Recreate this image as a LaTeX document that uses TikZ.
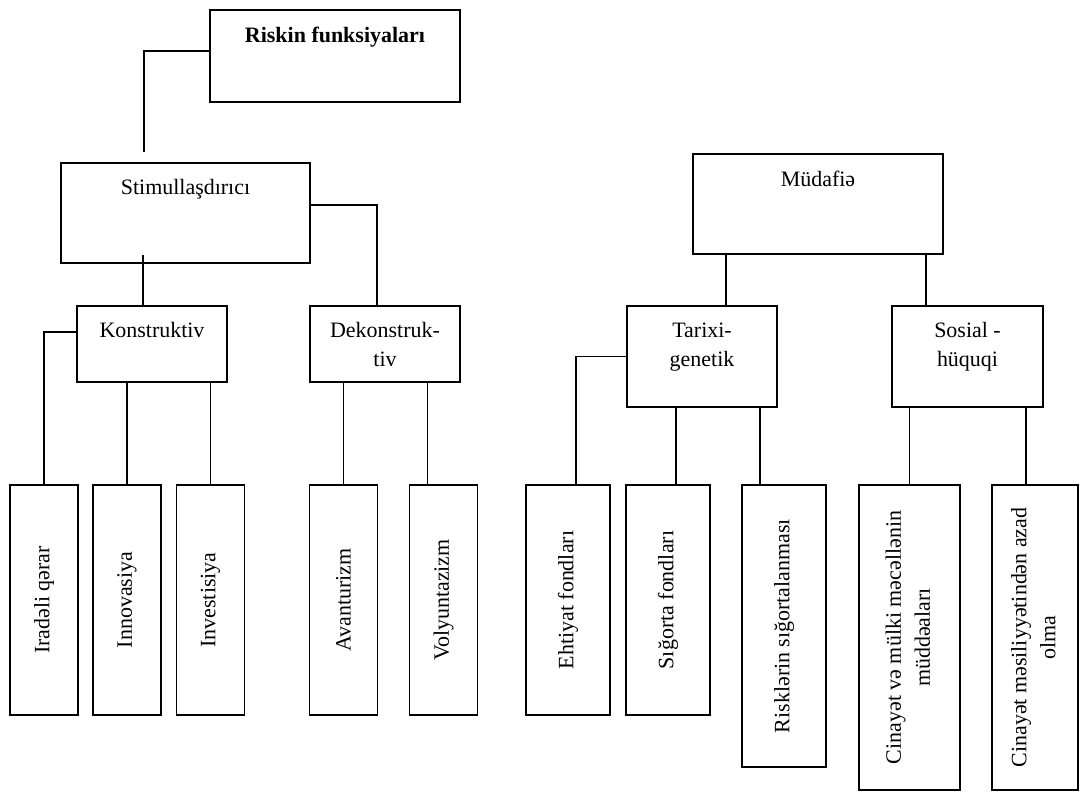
\documentclass[tikz,border=0pt]{standalone}
\usepackage{fontspec}
\setmainfont{Liberation Serif}

\tikzset{
	box/.style={draw, line width=0.9pt, inner sep=0pt},
	toptext/.style={anchor=north, align=center, inner sep=0pt, yshift=-0.34cm},
	leaf/.style={draw, line width=0.9pt, inner sep=0pt, minimum height=4.6cm},
	link/.style={line width=0.9pt}
}

\begin{document}
\begin{tikzpicture}[font=\fontsize{12.5}{16.5}\selectfont]
		\useasboundingbox (0,0) rectangle (21.8,-15.84);

		\node[box, minimum width=5cm, minimum height=1.84cm, label={[toptext]north:\textbf{Riskin funksiyaları}}] (R) at (6.7,-1.12) {};
		\node[box, minimum width=4.98cm, minimum height=2cm, label={[toptext]north:Stimullaşdırıcı}] (S) at (3.71,-4.26) {};
		\node[box, minimum width=5cm, minimum height=2cm, label={[toptext]north:Müdafiə}] (M) at (16.36,-4.08) {};

		\node[box, minimum width=3cm, minimum height=1.52cm, label={[toptext]north:Konstruktiv}] (K) at (3.04,-6.88) {};
		\node[box, minimum width=3cm, minimum height=1.52cm, label={[toptext]north:Dekonstruk-\\tiv}] (D) at (7.7,-6.88) {};
		\node[box, minimum width=3cm, minimum height=2.02cm, label={[toptext]north:Tarixi-\\genetik}] (T) at (14.04,-7.13) {};
		\node[box, minimum width=3.02cm, minimum height=2.02cm, label={[toptext]north:Sosial -\\hüquqi}] (SH) at (19.35,-7.13) {};

		\node[leaf, minimum width=1.36cm] (L1) at (0.88,-12) {\rotatebox{90}{Iradəli qərar}};
		\node[leaf, minimum width=1.36cm] (L2) at (2.54,-12) {\rotatebox{90}{Innovasiya}};
		\node[leaf, minimum width=1.36cm] (L3) at (4.21,-12) {\rotatebox{90}{Investisiya}};
		\node[leaf, minimum width=1.36cm] (L4) at (6.87,-12) {\rotatebox{90}{Avanturizm}};
		\node[leaf, minimum width=1.36cm] (L5) at (8.87,-12) {\rotatebox{90}{Volyuntazizm}};
		\node[leaf, minimum width=1.68cm] (L6) at (11.36,-12) {\rotatebox{90}{Ehtiyat fondları}};
		\node[leaf, minimum width=1.68cm] (L7) at (13.36,-12) {\rotatebox{90}{Sığorta fondları}};
		\node[leaf, minimum width=1.68cm, minimum height=5.64cm] (L8) at (15.68,-12.52) {\rotatebox{90}{Risklərin sığortalanması}};
		\node[leaf, minimum width=2.02cm, minimum height=6.1cm] (L9) at (18.19,-12.75) {\rotatebox{90}{\begin{tabular}{@{}c@{}}Cinayət və mülki məcəllənin\\müddəaları\end{tabular}}};
		\node[leaf, minimum width=1.72cm, minimum height=6.1cm] (L10) at (20.7,-12.75) {\rotatebox{90}{\begin{tabular}{@{}c@{}}Cinayət məsiliyyətindən azad\\olma\end{tabular}}};

		\draw[link, shorten >=0.2cm] ([yshift=0.1cm]R.west) -| ([xshift=-0.83cm]S.north);
		\draw[link] ([yshift=0.16cm]S.east) -| ([xshift=-0.16cm]D.north);
		\draw[link, shorten >=-0.18cm] ([xshift=-0.18cm]K.north) -- ([xshift=-0.18cm]K.north |- S.south);
		\draw[link] ([yshift=0.24cm]K.west) -| (L1.north);
		\draw[link] (L2.north) -- (L2.north |- K.south);
		\draw[link] (L3.north) -- (L3.north |- K.south);
		\draw[link] (L4.north) -- (L4.north |- D.south);
		\draw[link] ([xshift=-0.32cm]L5.north) -- ([xshift=-0.32cm]L5.north |- D.south);

		\draw[link] ([xshift=0.48cm]T.north) -- ([xshift=0.48cm]T.north |- M.south);
		\draw[link] ([xshift=-0.83cm]SH.north) -- ([xshift=-0.83cm]SH.north |- M.south);
		\draw[link] (T.west) -| ([xshift=0.16cm]L6.north);
		\draw[link] ([xshift=0.16cm]L7.north) -- ([xshift=0.16cm]L7.north |- T.south);
		\draw[link] ([xshift=-0.48cm]L8.north) -- ([xshift=-0.48cm]L8.north |- T.south);
		\draw[link] (L9.north) -- (L9.north |- SH.south);
		\draw[link] ([xshift=-0.18cm]L10.north) -- ([xshift=-0.18cm]L10.north |- SH.south);
	\end{tikzpicture}
\end{document}
